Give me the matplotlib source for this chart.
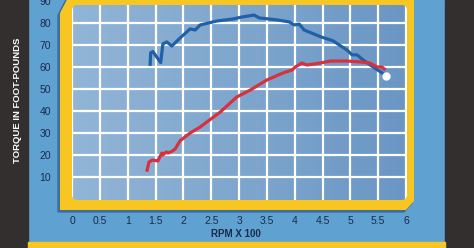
import numpy as np
import matplotlib.pyplot as plt
from matplotlib.patches import Rectangle, PathPatch, Polygon
from matplotlib.path import Path

plt.rcParams['font.family'] = ['Liberation Sans', 'DejaVu Sans']

# torque curves (rpm x 100, ft-lb)
blue_rpm = [1.40, 1.41, 1.45, 1.52, 1.59, 1.63, 1.70, 1.79, 1.94, 2.12, 2.21, 2.30,
            2.60, 2.89, 3.05, 3.20, 3.27, 3.36, 3.68, 3.90, 3.99, 4.08, 4.17, 4.48,
            4.68, 4.94, 5.03, 5.12, 5.23, 5.41, 5.57, 5.64]
blue_torque = [60.5, 66.4, 67.0, 64.5, 62.0, 70.5, 71.4, 69.5, 73.2, 77.3, 76.8, 79.1,
               80.9, 81.8, 82.7, 83.3, 83.6, 82.3, 81.4, 80.5, 79.1, 79.5, 76.8, 73.6,
               72.0, 67.7, 65.5, 65.5, 63.2, 60.0, 57.3, 55.9]
red_rpm = [1.34, 1.38, 1.44, 1.54, 1.61, 1.63, 1.69, 1.72, 1.80, 1.85, 1.94, 2.12,
           2.30, 2.42, 2.66, 2.96, 3.20, 3.50, 3.79, 3.95, 4.01, 4.13, 4.22, 4.46,
           4.64, 4.94, 5.18, 5.35, 5.48, 5.57, 5.63]
red_torque = [12.4, 16.8, 17.7, 17.3, 20.9, 20.0, 21.4, 20.9, 21.8, 22.7, 26.5, 30.0,
              32.7, 35.0, 39.5, 46.4, 49.5, 54.1, 57.3, 58.6, 60.0, 61.8, 60.9, 61.8,
              62.7, 62.7, 62.3, 61.8, 60.0, 60.0, 58.6]
x_ticks = [0, 0.5, 1, 1.5, 2, 2.5, 3, 3.5, 4, 4.5, 5, 5.5, 6]
x_labels = ['0', '0.5', '1', '1.5', '2', '2.5', '3', '3.5', '4', '4.5', '5', '5.5', '6']
y_ticks = [10, 20, 30, 40, 50, 60, 70, 80, 90]

W, H = 474, 248
panel_blue = '#5fa1d1'
yellow = '#f7c623'
dark = '#332f2f'
navy = '#1c2a4a'

fig = plt.figure(figsize=(W / 100, H / 100), dpi=100)
fig.patch.set_facecolor(panel_blue)


def fxy(x, y):
    # pixel (from top-left) -> figure fraction
    return (x / W, 1 - y / H)


# side strips and bottom bar
fig.add_artist(Rectangle(fxy(0, 248), 28 / W, 1, transform=fig.transFigure,
                         color=dark, zorder=-2))
fig.add_artist(Rectangle(fxy(445, 248), 29 / W, 1, transform=fig.transFigure,
                         color=dark, zorder=-2))
fig.add_artist(Rectangle(fxy(28, 248), 417 / W, 6 / H, transform=fig.transFigure,
                         color=yellow, zorder=-2))

# yellow frame outline (pixels), outer chamfered, inner rounded
outer = [(70, -6), (414, -6), (414, 201), (406, 210), (60, 210), (60, 13)]
shadow = Polygon([fxy(x - 2, y + 2) for x, y in outer], closed=True,
                 transform=fig.transFigure, color='#3e6f9c', zorder=-1)
fig.add_artist(shadow)

# plot area
ax = fig.add_axes([72 / W, 1 - 201 / H, 337 / W, 204 / H])
ax.patch.set_visible(False)
grad = np.linspace(0, 1, 64)[None, :, None]
c0 = np.array([0.57, 0.71, 0.84])
c1 = np.array([0.42, 0.59, 0.77])
ax.imshow(c0 + (c1 - c0) * grad, extent=[0, 1, 0, 1], transform=ax.transAxes,
          aspect='auto', zorder=0)
ax.set_xlim(-0.004, 6.054)
ax.set_ylim(-0.9, 91.8)
ax.set_xticks(x_ticks)
ax.set_xticklabels(x_labels)
ax.set_yticks(y_ticks)
ax.set_axisbelow(True)
ax.grid(True, color='white', lw=1.6)
for s in ax.spines.values():
    s.set_visible(False)
ax.tick_params(length=0, colors=navy, labelsize=7.5)
ax.tick_params(axis='y', pad=15)
ax.tick_params(axis='x', pad=11)
ax.set_xlabel('RPM X 100', fontsize=7, fontweight='bold', color=navy, va='center')
ax.xaxis.set_label_coords(0.487, -0.162)

ax.plot(blue_rpm, blue_torque, color='#2160a6', lw=2.3, solid_capstyle='butt', zorder=3)
ax.plot(red_rpm, red_torque, color='#d9303c', lw=2.3, solid_capstyle='butt', zorder=3)
ax.plot(blue_rpm[-1], blue_torque[-1], 'o', color='white', ms=5, zorder=4)

r = 5
inner = []
for cx, cy, a0 in [(72 + r, 5 + r, 270), (72 + r, 200 - r, 180),
                   (407 - r, 200 - r, 90), (407 - r, 5 + r, 0)]:
    for a in np.linspace(a0, a0 - 90, 6):
        inner.append((cx + r * np.cos(np.radians(a)), cy + r * np.sin(np.radians(a))))
verts = [fxy(*p) for p in outer] + [fxy(*outer[0])]
codes = [Path.MOVETO] + [Path.LINETO] * (len(outer) - 1) + [Path.CLOSEPOLY]
iv = [fxy(*p) for p in inner]
verts += iv + [iv[0]]
codes += [Path.MOVETO] + [Path.LINETO] * (len(iv) - 1) + [Path.CLOSEPOLY]
fig.add_artist(PathPatch(Path(verts, codes), transform=fig.transFigure,
                         facecolor=yellow, edgecolor='none', zorder=1))

fig.text(18 / W, 1 - 100 / H, 'TORQUE IN FOOT-POUNDS', rotation=90, color='white',
         fontsize=6.8, fontweight='bold', ha='center', va='center')

fig.savefig('out.png', dpi=100, facecolor=fig.get_facecolor())
